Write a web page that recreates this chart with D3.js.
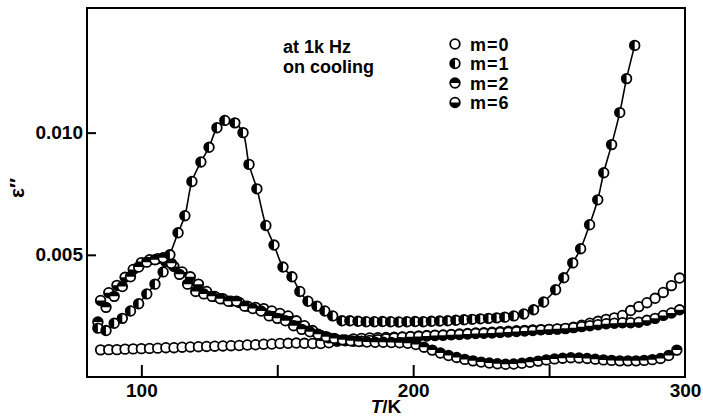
<!DOCTYPE html>
<html>
<head>
<meta charset="utf-8">
<script src="https://cdn.jsdelivr.net/npm/d3@7"></script>
<style>
  body { margin: 0; background: #fff; }
  text { font-family: "Liberation Sans", Arial, sans-serif; font-weight: bold; fill: #000; }
</style>
</head>
<body>
<script>
// epsilon'' vs T at 1 kHz, on cooling

const tM0 = [85, 88, 91, 94, 97, 100, 103, 106, 109, 112, 115, 118, 121, 124, 127, 130, 133, 136, 139, 142,
  145, 148, 151, 154, 157, 160, 163, 166, 169, 172, 175, 178, 181, 184, 187, 190, 193, 196, 199, 202,
  205, 208, 211, 214, 217, 220, 223, 226, 229, 232, 235, 238, 241, 244, 247, 250, 253, 256, 259, 262,
  265, 268, 271, 274, 277, 280, 283, 286, 289, 292, 295, 298];
const vM0 = [0.00111, 0.00112, 0.00112, 0.00114, 0.00115, 0.00116, 0.00117, 0.00118, 0.00120, 0.00120,
  0.00122, 0.00123, 0.00124, 0.00125, 0.00126, 0.00127, 0.00128, 0.00129, 0.00131, 0.00132,
  0.00134, 0.00135, 0.00137, 0.00138, 0.00139, 0.00138, 0.00137, 0.00137, 0.00140, 0.00146,
  0.00152, 0.00156, 0.00158, 0.00160, 0.00161, 0.00162, 0.00163, 0.00164, 0.00166, 0.00168,
  0.00170, 0.00171, 0.00172, 0.00174, 0.00176, 0.00178, 0.00180, 0.00181, 0.00183, 0.00185,
  0.00187, 0.00189, 0.00191, 0.00193, 0.00194, 0.00195, 0.00196, 0.00198, 0.00204, 0.00212,
  0.00220, 0.00228, 0.00236, 0.00242, 0.00252, 0.00272, 0.00288, 0.00304, 0.00322, 0.00346,
  0.00374, 0.00405];

const tM1 = [84, 87, 90, 93, 96, 99, 102, 105, 108, 110.5, 113.5, 116, 118.6, 121.9, 124.9, 127.8, 130.7,
  134.4, 137.4, 139.6, 142.5, 145.8, 148.8, 152.1, 155.4, 158.3, 161.3, 164.6, 167.5, 170.4, 173.8, 176.7,
  179.7, 182.7, 185.7, 188.7, 191.7, 194.7, 197.7, 200.7, 203.7, 206.7, 209.7, 212.7, 215.7, 218.7, 221.7,
  224.7, 227.7, 230.7, 233.7, 237, 240.7, 244.3, 248, 252.4, 255.4, 258.7, 261.6, 264.9, 267.9, 270.1,
  273, 276, 278.5, 281.5];
const vM1 = [0.0020, 0.0019, 0.0022, 0.0024, 0.0027, 0.0030, 0.0034, 0.0038, 0.0043, 0.0050, 0.0059,
  0.0066, 0.0080, 0.0088, 0.0094, 0.0102, 0.0105, 0.0104, 0.0100, 0.0087, 0.0077, 0.0062, 0.0054,
  0.0045, 0.0041, 0.0035, 0.0031, 0.0029, 0.0027, 0.0025, 0.0023, 0.0023, 0.00228, 0.00226, 0.00226,
  0.00227, 0.00226, 0.00225, 0.00226, 0.00227, 0.00226, 0.00228, 0.00229, 0.00230, 0.00232, 0.00234,
  0.00236, 0.00238, 0.00240, 0.00242, 0.00245, 0.00250, 0.00258, 0.00275, 0.00307, 0.00357, 0.00406,
  0.00467, 0.00525, 0.00623, 0.00725, 0.00836, 0.00951, 0.01082, 0.01221, 0.01357];

const tM2 = [84, 87, 90, 93, 96, 99, 102, 105, 108, 111, 114, 117, 120, 123, 126, 129, 132, 135, 138, 141,
  144, 147, 150, 153, 156, 159, 162, 165, 168, 171, 174, 177, 180, 183, 186, 189, 192, 195, 198, 201,
  204, 207, 210, 213, 216, 219, 222, 225, 228, 231, 234, 237, 240, 243, 246, 249, 252, 255, 258, 261,
  264, 267, 270, 273, 276, 279, 282, 285, 288, 291, 294, 297];
const vM2 = [0.00225, 0.00285, 0.00330, 0.00370, 0.00410, 0.00450, 0.00470, 0.00480, 0.00488, 0.00465,
  0.00420, 0.00380, 0.00350, 0.00340, 0.00330, 0.00320, 0.00310, 0.00310, 0.00290, 0.00280,
  0.00270, 0.00250, 0.00240, 0.00230, 0.00210, 0.00195, 0.00185, 0.00175, 0.00165, 0.00158,
  0.00152, 0.00148, 0.00145, 0.00143, 0.00142, 0.00142, 0.00141, 0.00140, 0.00138, 0.00133,
  0.00122, 0.00110, 0.00098, 0.00088, 0.00080, 0.00072, 0.00066, 0.00061, 0.00057, 0.00054,
  0.00052, 0.00053, 0.00056, 0.00060, 0.00065, 0.00070, 0.00074, 0.00077, 0.00079, 0.00078,
  0.00076, 0.00073, 0.00070, 0.00068, 0.00066, 0.00066, 0.00066, 0.00068, 0.00071, 0.00076,
  0.00088, 0.00110];

const tM6 = tM0.slice();
const vM6 = [0.00313, 0.00345, 0.00375, 0.00408, 0.00440, 0.00468, 0.00480, 0.00484, 0.00472, 0.00452,
  0.00430, 0.00410, 0.00380, 0.00350, 0.00330, 0.00320, 0.00310, 0.00305, 0.00290, 0.00285,
  0.00280, 0.00270, 0.00260, 0.00250, 0.00230, 0.00210, 0.00190, 0.00170, 0.00160, 0.00152,
  0.00148, 0.00146, 0.00147, 0.00150, 0.00153, 0.00157, 0.00160, 0.00163, 0.00165, 0.00166,
  0.00168, 0.00170, 0.00171, 0.00173, 0.00174, 0.00176, 0.00178, 0.00179, 0.00180, 0.00182,
  0.00184, 0.00186, 0.00188, 0.00190, 0.00193, 0.00195, 0.00197, 0.00199, 0.00202, 0.00206,
  0.00210, 0.00214, 0.00218, 0.00220, 0.00222, 0.00222, 0.00224, 0.00232, 0.00240, 0.00252,
  0.00262, 0.00275];

const legendLabels = ['m=0', 'm=1', 'm=2', 'm=6'];
const xTicks = [100, 150, 200, 250, 300];
const xLabels = [100, 200, 300];
const yTicks = [0.005, 0.010];

const width = 703;
const height = 419;
const margin = { left: 87, right: 18, top: 8, bottom: 42 };

const svg = d3.select('body').append('svg')
  .attr('width', width)
  .attr('height', height);

const xScale = d3.scaleLinear()
  .domain([80, 300])
  .range([margin.left, width - margin.right]);
const yScale = d3.scaleLinear()
  .domain([0, 0.0151])
  .range([height - margin.bottom, margin.top]);

const plotW = width - margin.left - margin.right;
const plotH = height - margin.top - margin.bottom;

// axes, ticks pointing inward
const xAxis = d3.axisBottom(xScale)
  .tickValues(xTicks)
  .tickSize(-12)
  .tickPadding(6)
  .tickFormat(d => (xLabels.includes(d) ? d : ''));
const gx = svg.append('g')
  .attr('transform', `translate(0, ${height - margin.bottom})`)
  .call(xAxis);
gx.select('.domain').remove();
gx.selectAll('.tick line').attr('stroke-width', 2)
  .filter(d => d === 300).remove();
gx.selectAll('text').attr('font-size', 19).attr('dy', '0.75em');

const yAxis = d3.axisLeft(yScale)
  .tickValues(yTicks)
  .tickSize(-9)
  .tickPadding(4)
  .tickFormat(d3.format('.3f'));
const gy = svg.append('g')
  .attr('transform', `translate(${margin.left}, 0)`)
  .call(yAxis);
gy.select('.domain').remove();
gy.selectAll('.tick line').attr('stroke-width', 2);
gy.selectAll('text').attr('font-size', 19);

svg.append('rect')
  .attr('x', margin.left)
  .attr('y', margin.top)
  .attr('width', plotW)
  .attr('height', plotH)
  .attr('fill', 'none')
  .attr('stroke', '#000')
  .attr('stroke-width', 2);

// axis titles
const xt = svg.append('text')
  .attr('x', 386)
  .attr('y', 413)
  .attr('text-anchor', 'middle')
  .attr('font-size', 19);
xt.append('tspan').attr('font-style', 'italic').text('T');
xt.append('tspan').text('/K');

svg.append('text')
  .attr('transform', 'translate(24, 188) rotate(-90)')
  .attr('text-anchor', 'middle')
  .attr('font-size', 21)
  .text('\u03b5\u2033');

// marker helpers
const R = 4.8;
const halfArc = d3.arc().innerRadius(0).outerRadius(R);
const halves = {
  m0: null,
  m1: [Math.PI, 2 * Math.PI],           // left half dark
  m2: [-Math.PI / 2, Math.PI / 2],      // top half dark
  m6: [Math.PI / 2, 3 * Math.PI / 2],   // bottom half dark
};

function drawMarkers(g, pts, kind) {
  const m = g.selectAll(null)
    .data(pts)
    .enter()
    .append('g')
    .attr('transform', d => `translate(${xScale(d[0])}, ${yScale(d[1])})`);
  m.append('circle')
    .attr('r', R)
    .attr('fill', '#fff');
  if (halves[kind]) {
    m.append('path')
      .attr('d', halfArc({ startAngle: halves[kind][0], endAngle: halves[kind][1] }))
      .attr('fill', '#000');
  }
  m.append('circle')
    .attr('r', R)
    .attr('fill', 'none')
    .attr('stroke', '#000')
    .attr('stroke-width', 1.8);
}

const zip = (t, v) => t.map((d, i) => [d, v[i]]);
const ptsM0 = zip(tM0, vM0);
const ptsM1 = zip(tM1, vM1);
const ptsM2 = zip(tM2, vM2);
const ptsM6 = zip(tM6, vM6);

const plot = svg.append('g');

// m=1 has a guide line through its points
const line = d3.line()
  .x(d => xScale(d[0]))
  .y(d => yScale(d[1]))
  .curve(d3.curveCatmullRom.alpha(0.5));
plot.append('path')
  .datum(ptsM1)
  .attr('d', line)
  .attr('fill', 'none')
  .attr('stroke', '#000')
  .attr('stroke-width', 1.6);

drawMarkers(plot.append('g'), ptsM0, 'm0');
drawMarkers(plot.append('g'), ptsM6, 'm6');
drawMarkers(plot.append('g'), ptsM2, 'm2');
drawMarkers(plot.append('g'), ptsM1, 'm1');

// annotation
svg.append('text').attr('x', 283).attr('y', 53).attr('font-size', 18).text('at 1k Hz');
svg.append('text').attr('x', 283).attr('y', 73).attr('font-size', 18).text('on cooling');

// legend
const kinds = ['m0', 'm1', 'm2', 'm6'];
legendLabels.forEach((lab, i) => {
  const y = 44 + i * 19.5;
  const g = svg.append('g');
  drawMarkers(g, [[0, 0]], kinds[i]);
  g.select('g').attr('transform', `translate(455, ${y})`);
  g.append('text')
    .attr('x', 470)
    .attr('y', y + 6.5)
    .attr('font-size', 18)
    .attr('letter-spacing', 1)
    .text(lab);
});
</script>
</body>
</html>
